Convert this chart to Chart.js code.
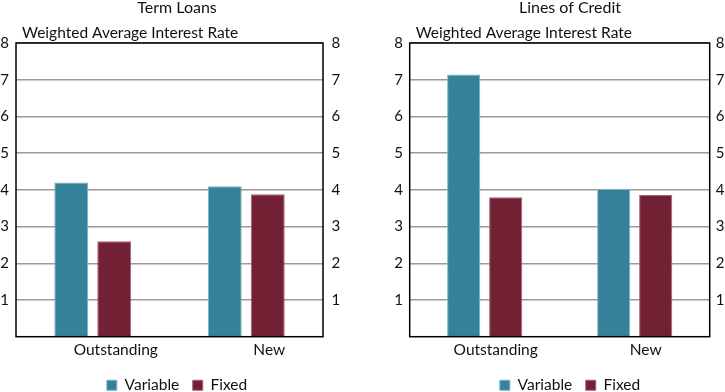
<!DOCTYPE html>
<html><head><meta charset="utf-8">
<script src="https://cdn.jsdelivr.net/npm/chart.js@4.4.1/dist/chart.umd.min.js"></script>
<style>
html,body{margin:0;padding:0;width:725px;height:392px;overflow:hidden;background:#fff;}
.box{position:absolute;top:0;height:403px;}
</style></head><body>
<div class="box" style="left:0;width:354px"><canvas id="c1"></canvas></div>
<div class="box" style="left:386px;width:368px"><canvas id="c2"></canvas></div>
<script>
const categories = ['Outstanding', 'New'];
const seriesNames = ['Variable', 'Fixed'];
const termVariable = [4.2, 4.1];
const termFixed = [2.6, 3.88];
const creditVariable = [7.14, 4.02];
const creditFixed = [3.8, 3.86];
const yMin = 0, yMax = 8, yStep = 1;
const panelTitles = ['Term Loans', 'Lines of Credit'];
const axisNote = 'Weighted Average Interest Rate';

const FONT = 'Lato';
const TEAL = '#35819a';
const MAROON = '#722034';

const framePlugin = {
  id: 'frame',
  afterDatasetsDraw(chart, args, opts) {
    const {ctx, chartArea: a} = chart;
    ctx.save();
    ctx.strokeStyle = '#000';
    ctx.lineWidth = 1.5;
    ctx.strokeRect(a.left, a.top, a.right - a.left, a.bottom - a.top);
    ctx.fillStyle = '#111';
    ctx.font = '15.5px ' + FONT;
    ctx.textBaseline = 'alphabetic';
    ctx.textAlign = 'left';
    ctx.fillText(opts.text, a.left + 6, a.top - 5);
    ctx.restore();
  }
};

function makeChart(id, title, variable, fixed, g) {
  const tickFont = {family: FONT, size: 15};
  const yCommon = (pos, w, pad) => ({
    position: pos,
    min: yMin, max: yMax,
    ticks: {
      stepSize: yStep, color: '#111', font: tickFont, padding: pad
    },
    border: {display: false},
    afterBuildTicks(scale) { scale.ticks = scale.ticks.filter(t => t.value !== yMin); },
    afterFit(scale) { scale.width = w; }
  });
  return new Chart(document.getElementById(id), {
    type: 'bar',
    data: {
      labels: categories,
      datasets: [
        {label: seriesNames[0], data: variable, backgroundColor: TEAL, borderColor: '#7fb3c3', borderWidth: 1},
        {label: seriesNames[1], data: fixed, backgroundColor: MAROON, borderColor: '#a86074', borderWidth: 1}
      ]
    },
    options: {
      responsive: true,
      maintainAspectRatio: false,
      animation: false,
      datasets: {bar: {categoryPercentage: 0.56, barPercentage: 0.79}},
      layout: {padding: 0},
      scales: {
        x: {
          grid: {display: false, drawTicks: false, tickLength: 0},
          border: {display: false},
          ticks: {color: '#111', font: {family: FONT, size: 15.5}, padding: 4.35, labelOffset: g.labelOffset}
        },
        y: Object.assign(yCommon('left', g.leftW, g.leftPad), {
          grid: {color: '#9a9a9a', lineWidth: 1.5, drawTicks: false}
        }),
        y2: Object.assign(yCommon('right', g.rightW, g.rightPad), {
          grid: {display: false, drawTicks: false}
        })
      },
      plugins: {
        title: {
          display: true, text: title, color: '#111',
          font: {family: FONT, size: 16, weight: 'normal', lineHeight: 1},
          padding: {top: 0, bottom: 27}
        },
        legend: {
          position: 'bottom',
          labels: {
            boxWidth: 10, boxHeight: 10, padding: 13.5, color: '#111',
            font: {family: FONT, size: 15.5, lineHeight: 1}
          }
        },
        tooltip: {enabled: false},
        frame: {text: axisNote}
      }
    },
    plugins: [framePlugin]
  });
}

makeChart('c1', panelTitles[0], termVariable, termFixed,
  {leftW: 16, rightW: 31, leftPad: 7, rightPad: 8.5, labelOffset: 23});
makeChart('c2', panelTitles[1], creditVariable, creditFixed,
  {leftW: 23.7, rightW: 44.3, leftPad: 6.7, rightPad: 6, labelOffset: 11});
</script>
</body></html>
